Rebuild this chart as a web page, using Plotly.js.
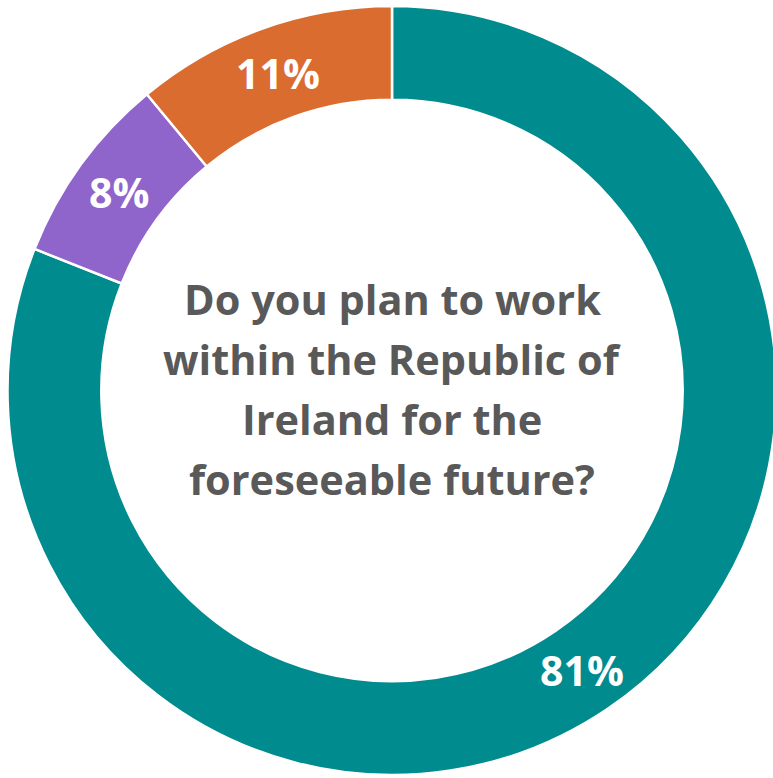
<!DOCTYPE html>
<html>
<head>
<meta charset="utf-8">
<script src="https://cdn.plot.ly/plotly-3.0.1.min.js"></script>
<style>
html, body { margin: 0; padding: 0; overflow: hidden; background: #ffffff; }
#chart { width: 800px; height: 778px; }
</style>
</head>
<body>
<div id="chart"></div>
<script>
// Data
const categories = ["Yes", "No", "Unsure"];
const values = [81, 8, 11];
const colors = ["#008B8F", "#9065CB", "#DA6C30"];
const titleLines = [
  "Do you plan to work",
  "within the Republic of",
  "Ireland for the",
  "foreseeable future?"
];

const HOLE = 0.756;
const R_PX = 384.5; // outer radius in px (plot area 770x769)

const trace = {
  type: "pie",
  labels: categories,
  values: values,
  hole: HOLE,
  sort: false,
  direction: "clockwise",
  rotation: 0,
  marker: { colors: colors, line: { color: "#ffffff", width: 2.5 } },
  textinfo: "none",
  hoverinfo: "label+value",
  showlegend: false
};

const FONT = "'Open Sans', Lato, sans-serif";

// percentage labels placed at mid-ring of each slice, angle derived from the values
const total = values.reduce((a, b) => a + b, 0);
const rMid = R_PX * (1 + HOLE) / 2;
let cum = 0;
const labelAnns = values.map((v) => {
  const mid = (cum + v / 2) / total;
  cum += v;
  const th = 2 * Math.PI * mid;
  return {
    text: v + "%",
    xref: "paper", yref: "paper",
    x: 0.5, y: 0.5,
    xanchor: "center", yanchor: "middle",
    xshift: rMid * Math.sin(th),
    yshift: rMid * Math.cos(th),
    showarrow: false,
    font: { family: FONT, size: 41, color: "#ffffff", weight: 700 }
  };
});

const lineGap = 60;
const titleAnns = titleLines.map((t, i) => ({
  text: t,
  xref: "paper", yref: "paper",
  x: 0.5, y: 0.5,
  xanchor: "center", yanchor: "middle",
  yshift: ((titleLines.length - 1) / 2 - i) * lineGap + 2,
  showarrow: false,
  font: { family: FONT, size: 41.5, color: "#595959", weight: 700 }
}));

const layout = {
  width: 800,
  height: 778,
  margin: { l: 7, r: 23, t: 6, b: 3, pad: 0 },
  paper_bgcolor: "#ffffff",
  plot_bgcolor: "#ffffff",
  annotations: titleAnns.concat(labelAnns),
  showlegend: false
};

Plotly.newPlot("chart", [trace], layout, { displayModeBar: false, staticPlot: true });
</script>
</body>
</html>
